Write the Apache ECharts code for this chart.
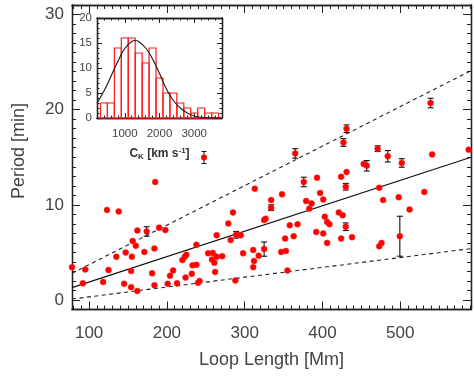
<!DOCTYPE html>
<html>
<head>
<meta charset="utf-8">
<script src="https://cdn.jsdelivr.net/npm/echarts@6/dist/echarts.min.js"></script>
<style>html,body{margin:0;padding:0;background:#fff}#c{width:474px;height:376px}</style>
</head>
<body>
<div id="c"></div>
<script>
// ---- main scatter data (Loop Length [Mm], Period [min]) ----
const loopLength = [185,123,138,313,162,174,190,198,156,160,184,147,171,155,135,125,95,78,154,92,118,145,154,162,184,181,201,213,208,204,223,220,225,238,224,232,233,238,240,242,253,259,258,261,262,264,271,264,279,285,282,289,295,298,311,318,312,311,288,
539,431,427,365,471,484,541,588,502,453,457,431,424,393,376,430,473,531,348,397,498,478,401,334,379,386,334,383,512,327,325,421,426,403,406,409,368,358,430,392,401,363,352,406,424,438,499.5,476,473,325,347,353,355];
const period = [12.4,9.45,9.3,11.7,7.3,7.2,7.6,7.35,6.2,5.7,5.4,5.0,5.05,4.55,4.55,3.15,3.2,3.45,3.05,1.75,1.9,1.7,1.35,0.95,1.55,2.8,1.7,1.75,3.1,2.55,4.55,4.2,4.75,5.8,2.35,2.75,3.65,3.7,1.8,2.0,4.9,4.95,4.25,3.9,2.95,4.55,4.6,6.8,8.05,9.2,6.3,6.85,6.8,4.9,5.25,4.65,4.1,3.45,2.05,
20.7,18.0,16.55,15.4,15.9,15.1,15.3,15.8,14.4,14.3,14.1,13.45,12.95,12.85,12.4,11.9,11.8,11.35,11.1,11.25,10.8,10.5,10.55,10.5,10.4,10.15,9.7,9.6,9.5,8.55,8.4,9.2,8.9,8.75,8.2,7.95,7.95,7.85,7.7,7.15,7.0,6.7,6.45,6.0,6.45,6.6,6.7,6.0,5.65,5.35,5.05,5.15,3.1];
// ---- error bars ----
const errLoop   = [174,289,539,431,427,365,471,484,502,457,376,430,334,430,499.5,325];
const errPeriod = [7.2,6.85,20.7,18.0,16.55,15.4,15.9,15.1,14.4,14.1,12.4,11.9,9.7,7.7,6.7,5.35];
const errSigma  = [0.5,0.35,0.5,0.4,0.4,0.5,0.3,0.6,0.45,0.55,0.5,0.35,0.3,0.4,2.1,0.75];
// ---- fit lines ----
const fitX = [78, 591];
const fitY = [1.3, 15.0];
const upperY = [2.8, 24.1];
const lowerY = [0.1, 5.4];
// ---- inset histogram of C_K ----
const ckBinCenter = [400,600,800,1000,1200,1400,1600,1800,2000,2200,2400,2600,2800,3000,3200,3400,3600];
const ckCounts    = [3,3,14,16,16,13,11,14,8,5,5,3,2,1,2,1,1];
const ckBinWidth = 200;
const ckCurveX = [200,400,600,800,1000,1200,1300,1400,1600,1800,2000,2200,2400,2600,2800,3000,3200,3400,3600,3800];
const ckCurveY = [3.0,5.4,8.3,11.3,13.9,15.3,15.5,15.3,14.0,11.8,8.9,5.8,3.5,2.0,1.0,0.4,0.15,0.05,0.02,0.0];
// ---- ticks ----
const xTickLabels = [100,200,300,400,500];
const yTickLabels = [0,10,20,30];
const ckXTickLabels = [1000,2000,3000];
const ckYTickLabels = [0,5,10,15,20];

const X0 = 78, X1 = 591, Y0 = -1, Y1 = 31;
const CX0 = 200, CX1 = 3800, CY0 = 0, CY1 = 20;
function range(a,b,s){const r=[];for(let v=a;v<=b+1e-9;v+=s)r.push(Math.round(v*100)/100);return r;}
const xMinor = range(80,590,10), yMinor = range(-1,31,1);
const cxMinor = range(200,3800,200), cyMinor = range(0,20,1);

const FONT = 'Liberation Sans, Arial, Helvetica, sans-serif';
const AX = '#222';
function axis(grid, pos, min, max, ticks, len, labels, extra){
  const o = {
    type:'value', gridIndex:grid, position:pos, min:min, max:max,
    axisLine:{show:true, onZero:false, lineStyle:{color:AX, width:1.3}},
    axisTick:{show:true, inside:true, length:len, customValues:ticks, lineStyle:{color:AX, width:1}},
    axisLabel: labels ? Object.assign({show:true, customValues:labels, color:'#444', fontFamily:FONT,
      formatter:function(v){return String(v);}}, extra && extra.label || {}) : {show:false},
    splitLine:{show:false}
  };
  if (extra && extra.name) Object.assign(o, extra.name);
  return o;
}

const chart = echarts.init(document.getElementById('c'), null, {renderer:'canvas'});
const option = {
  backgroundColor:'#fff',
  animation:false,
  textStyle:{fontFamily:FONT},
  grid:[
    {left:72, right:3, top:5, bottom:66.5, outerBoundsMode:'none', containLabel:false},
    {left:97, top:18, width:125, height:100, outerBoundsMode:'none', containLabel:false, show:true, backgroundColor:'#fff', borderWidth:0}
  ],
  xAxis:[
    axis(0,'bottom',X0,X1,xTickLabels,8,xTickLabels,{label:{fontSize:17,margin:15},
      name:{name:'Loop Length [Mm]', nameLocation:'middle', nameGap:42, nameTextStyle:{fontSize:18, color:'#444', fontFamily:FONT}}}),
    axis(0,'bottom',X0,X1,xMinor,4,null),
    axis(0,'top',X0,X1,xTickLabels,8,null),
    axis(0,'top',X0,X1,xMinor,4,null),
    axis(1,'bottom',CX0,CX1,ckXTickLabels,5,ckXTickLabels,{label:{fontSize:11.5,margin:10},
      name:{name:'{a|C}{s|K}{a| [km s}{p|-1}{a|]}', nameLocation:'middle', nameGap:29,
        nameTextStyle:{color:'#333', fontFamily:FONT, rich:{
          a:{fontSize:12, fontWeight:'bold', color:'#333', fontFamily:FONT},
          s:{fontSize:8, fontWeight:'bold', color:'#333', verticalAlign:'bottom', padding:[6,0,0,0], fontFamily:FONT},
          p:{fontSize:8, fontWeight:'bold', color:'#333', verticalAlign:'top', padding:[0,0,6,0], fontFamily:FONT}}}}}),
    axis(1,'bottom',CX0,CX1,cxMinor,2.5,null),
    axis(1,'top',CX0,CX1,ckXTickLabels,5,null),
    axis(1,'top',CX0,CX1,cxMinor,2.5,null)
  ],
  yAxis:[
    axis(0,'left',Y0,Y1,yTickLabels,8,yTickLabels,{label:{fontSize:17,margin:8}}),
    axis(0,'left',Y0,Y1,yMinor,4,null),
    axis(0,'right',Y0,Y1,yTickLabels,8,null),
    axis(0,'right',Y0,Y1,yMinor,4,null),
    axis(1,'left',CY0,CY1,ckYTickLabels,5,ckYTickLabels,{label:{fontSize:11.5,margin:5}}),
    axis(1,'left',CY0,CY1,cyMinor,2.5,null),
    axis(1,'right',CY0,CY1,ckYTickLabels,5,null),
    axis(1,'right',CY0,CY1,cyMinor,2.5,null)
  ],
  series:[
    {type:'line', xAxisIndex:0, yAxisIndex:0, data:fitX.map((x,i)=>[x,fitY[i]]), symbol:'none', silent:true,
      lineStyle:{color:'#111', width:1.1}, z:2},
    {type:'line', xAxisIndex:0, yAxisIndex:0, data:fitX.map((x,i)=>[x,upperY[i]]), symbol:'none', silent:true,
      lineStyle:{color:'#222', width:1.1, type:[4,3.5]}, z:2},
    {type:'line', xAxisIndex:0, yAxisIndex:0, data:fitX.map((x,i)=>[x,lowerY[i]]), symbol:'none', silent:true,
      lineStyle:{color:'#222', width:1.1, type:[4,3.5]}, z:2},
    {type:'custom', xAxisIndex:0, yAxisIndex:0, z:3,
      data:errLoop.map((x,i)=>[x,errPeriod[i],errSigma[i]]),
      encode:{x:0,y:1},
      renderItem:function(params, api){
        const x=api.value(0), y=api.value(1), e=api.value(2);
        const t=api.coord([x,y+e]), b=api.coord([x,y-e]);
        const st={stroke:'#111', lineWidth:1.1};
        return {type:'group', children:[
          {type:'line', shape:{x1:t[0],y1:t[1],x2:b[0],y2:b[1]}, style:st},
          {type:'line', shape:{x1:t[0]-3,y1:t[1],x2:t[0]+3,y2:t[1]}, style:st},
          {type:'line', shape:{x1:b[0]-3,y1:b[1],x2:b[0]+3,y2:b[1]}, style:st}
        ]};
      }},
    {type:'scatter', xAxisIndex:0, yAxisIndex:0, z:4,
      data:loopLength.map((x,i)=>[x,period[i]]),
      symbol:'circle', symbolSize:6,
      itemStyle:{color:'#ff0000', borderColor:'rgba(255,40,40,0.45)', borderWidth:1, opacity:1}},
    {type:'custom', xAxisIndex:4, yAxisIndex:4, z:5,
      data:ckBinCenter.map((c,i)=>[c,ckCounts[i]]),
      encode:{x:0,y:1},
      renderItem:function(params, api){
        const c=api.value(0), n=api.value(1);
        const p0=api.coord([c-ckBinWidth/2,0]), p1=api.coord([c+ckBinWidth/2,n]);
        return {type:'rect', shape:{x:p0[0], y:p1[1], width:p1[0]-p0[0], height:p0[1]-p1[1]},
          style:{fill:'rgba(255,255,255,0)', stroke:'#ff1a1a', lineWidth:1.2}};
      }},
    {type:'line', xAxisIndex:4, yAxisIndex:4, z:6, data:ckCurveX.map((x,i)=>[x,ckCurveY[i]]),
      symbol:'none', smooth:true, silent:true, lineStyle:{color:'#222', width:1.2}}
  ],
  graphic:[
    {type:'text', left:10, top:103, rotation:Math.PI/2,
      style:{text:'Period [min]', fontSize:18, fill:'#444', fontFamily:FONT}},
    {type:'group', left:199, top:149, children:[
      {type:'line', shape:{x1:4,y1:0,x2:4,y2:12}, style:{stroke:'#111', lineWidth:1}},
      {type:'line', shape:{x1:1.5,y1:0,x2:6.5,y2:0}, style:{stroke:'#111', lineWidth:1}},
      {type:'line', shape:{x1:1.5,y1:12,x2:6.5,y2:12}, style:{stroke:'#111', lineWidth:1}},
      {type:'circle', shape:{cx:4, cy:6, r:3}, style:{fill:'#ff0000'}}
    ]}
  ]
};
chart.setOption(option);
</script>
</body>
</html>
